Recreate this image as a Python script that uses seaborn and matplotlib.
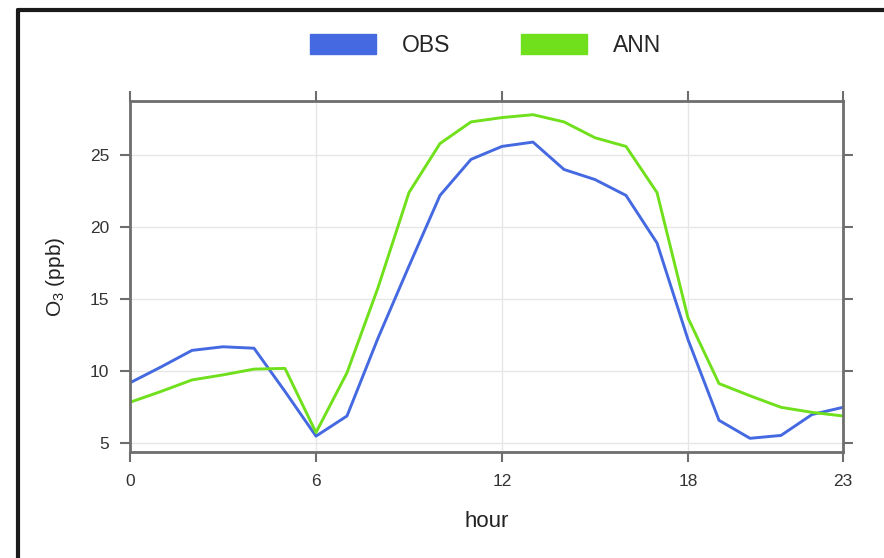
import numpy as np
import pandas as pd
import seaborn as sns
import matplotlib.pyplot as plt
from matplotlib.patches import Patch
from matplotlib.lines import Line2D

hours = list(range(24))
obs = [9.2, 10.3, 11.45, 11.7, 11.6, 8.6, 5.5, 6.9, 12.3, 17.3, 22.2, 24.7,
       25.6, 25.9, 24.0, 23.3, 22.2, 18.9, 12.2, 6.6, 5.35, 5.55, 7.0, 7.5]
ann = [7.85, 8.6, 9.4, 9.75, 10.15, 10.2, 5.75, 9.9, 15.8, 22.4, 25.8, 27.3,
       27.6, 27.8, 27.3, 26.2, 25.6, 22.4, 13.7, 9.15, 8.3, 7.5, 7.15, 6.9]
series = ['OBS', 'ANN']
colors = {'OBS': '#4469e0', 'ANN': '#70e01c'}
xticks = [0, 6, 12, 18, 23]
yticks = [5, 10, 15, 20, 25]

df = pd.DataFrame({'hour': hours * 2,
                   'o3': obs + ann,
                   'model': ['OBS'] * 24 + ['ANN'] * 24})

sns.set_theme(style='white')
plt.rcParams['font.family'] = ['Liberation Sans', 'DejaVu Sans']
plt.rcParams['mathtext.fontset'] = 'custom'
plt.rcParams['mathtext.rm'] = 'Liberation Sans'
plt.rcParams['mathtext.default'] = 'regular'

fig = plt.figure(figsize=(8.84, 5.58), dpi=100)
ax = fig.add_axes([130/884, 1-452/558, 713/884, 351/558])

sns.lineplot(data=df, x='hour', y='o3', hue='model', palette=colors,
             linewidth=2.1, legend=False, ax=ax)

ax.set_xlim(0, 23)
ax.set_ylim(4.4, 28.75)
ax.set_xticks(xticks)
ax.set_yticks(yticks)
ax.grid(True, color='#e6e6e6', linewidth=1)
ax.tick_params(axis='both', direction='out', length=7, width=1.5,
               color='#6e6e6e', labelsize=12.5, labelcolor='#333333',
               top=True, right=True, bottom=True, left=True,
               labeltop=False, labelright=False)
ax.tick_params(axis='x', pad=9)
ax.tick_params(axis='y', pad=8)
for s in ax.spines.values():
    s.set_color('#6e6e6e')
    s.set_linewidth(2)

ax.set_xlabel('hour', fontsize=16, color='#222222', labelpad=16)
ax.set_ylabel('O$_3$ (ppb)', fontsize=15, color='#222222', labelpad=16)

handles = [Patch(facecolor=colors[s], edgecolor=colors[s], label=s) for s in series]
fig.legend(handles=handles, loc='center', bbox_to_anchor=(0.549, 0.918),
           ncol=2, frameon=False, fontsize=16.5, handlelength=2.9,
           handleheight=0.95, handletextpad=1.1, columnspacing=3.1)

# dark frame around the figure (left and top edges visible)
fig.add_artist(Line2D([18/884, 18/884], [0, 1-10/558], transform=fig.transFigure,
                      color='#1a1a1a', linewidth=3))
fig.add_artist(Line2D([18/884, 1], [1-10/558, 1-10/558], transform=fig.transFigure,
                      color='#1a1a1a', linewidth=3))

fig.savefig('out.png', dpi=100)
